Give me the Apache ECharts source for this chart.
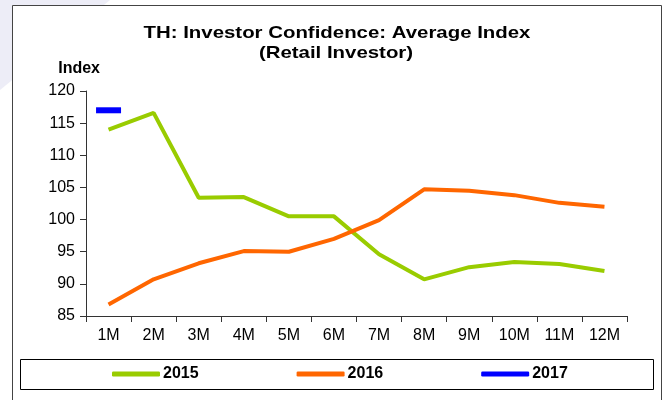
<!DOCTYPE html>
<html>
<head>
<meta charset="utf-8">
<script src="https://cdn.jsdelivr.net/npm/echarts@6/dist/echarts.min.js"></script>
<style>
  html, body { margin: 0; padding: 0; background: #fff; }
  #chart { width: 667px; height: 400px; }
</style>
</head>
<body>
<div id="chart"></div>
<script>
const months = ["1M", "2M", "3M", "4M", "5M", "6M", "7M", "8M", "9M", "10M", "11M", "12M"];
const y2015 = [114.0, 116.6, 103.4, 103.5, 100.5, 100.5, 94.6, 90.7, 92.6, 93.4, 93.1, 92.0];
const y2016 = [86.8, 90.7, 93.2, 95.1, 95.0, 97.0, 99.9, 104.7, 104.5, 103.8, 102.6, 102.0];
const y2017 = [117.0];

const font = "Liberation Sans, Arial, sans-serif";
const chart = echarts.init(document.getElementById("chart"));

chart.setOption({
  backgroundColor: "#fff",
  animation: false,
  graphic: [
    // faint watermark outside the frame
    { type: "polygon", z: -10, shape: { points: [[0, 0], [110, 0], [0, 90]] }, style: { fill: "#ededf7" }, silent: true },
    { type: "rect", z: -9, shape: { x: 12.5, y: 5.5, width: 649, height: 400 }, style: { fill: "#fff", stroke: "#444", lineWidth: 1 }, silent: true },
    { type: "rect", shape: { x: 20.5, y: 359.5, width: 633, height: 30 }, style: { fill: "none", stroke: "#000", lineWidth: 1 }, silent: true },
    {
      type: "text", x: 337, y: 33, scaleX: 1.2, silent: true,
      style: { text: "TH: Investor Confidence: Average Index", fill: "#000", font: "bold 17px " + font, textAlign: "center", textVerticalAlign: "middle" },
    },
    {
      type: "text", x: 336, y: 53, scaleX: 1.2, silent: true,
      style: { text: "(Retail Investor)", fill: "#000", font: "bold 17px " + font, textAlign: "center", textVerticalAlign: "middle" },
    },
  ],
  legend: {
    left: 112,
    top: 366,
    padding: 0,
    itemWidth: 48,
    itemHeight: 5,
    itemGap: 98,
    icon: "roundRect",
    textStyle: { fontFamily: font, fontSize: 16, fontWeight: "bold", color: "#000", padding: [0, 0, 0, -2] },
    data: ["2015", "2016", { name: "2017", itemStyle: { color: "#0000FF", opacity: 1 } }],
  },
  grid: { left: 86, right: 40, top: 91, bottom: 84 },
  xAxis: {
    type: "category",
    data: months,
    boundaryGap: true,
    axisLine: { lineStyle: { color: "#333", width: 1 } },
    axisTick: { show: true, interval: 0, length: 6, lineStyle: { color: "#333" } },
    axisLabel: { color: "#000", fontFamily: font, fontSize: 16, margin: 12, interval: 0 },
  },
  yAxis: {
    type: "value",
    min: 85,
    max: 120,
    interval: 5,
    name: "Index",
    nameLocation: "end",
    nameGap: 14,
    nameTextStyle: { fontFamily: font, fontSize: 16, fontWeight: "bold", color: "#000", align: "right", padding: [0, -14, 0, 0] },
    axisLine: { show: true, lineStyle: { color: "#333", width: 1 } },
    axisTick: { show: true, length: 6, lineStyle: { color: "#333" } },
    splitLine: { show: false },
    axisLabel: { color: "#000", fontFamily: font, fontSize: 16, margin: 11 },
  },
  series: [
    {
      name: "2015",
      type: "line",
      data: y2015,
      symbol: "none",
      color: "#99CC00",
      lineStyle: { width: 4, color: "#99CC00" },
    },
    {
      name: "2016",
      type: "line",
      data: y2016,
      symbol: "none",
      color: "#FF6600",
      lineStyle: { width: 4, color: "#FF6600" },
    },
    {
      name: "2017",
      type: "scatter",
      data: y2017,
      symbol: "rect",
      symbolSize: [25, 6],
      color: "#0000FF",
      itemStyle: { color: "#0000FF", opacity: 1 },
    },
  ],
});
</script>
</body>
</html>
